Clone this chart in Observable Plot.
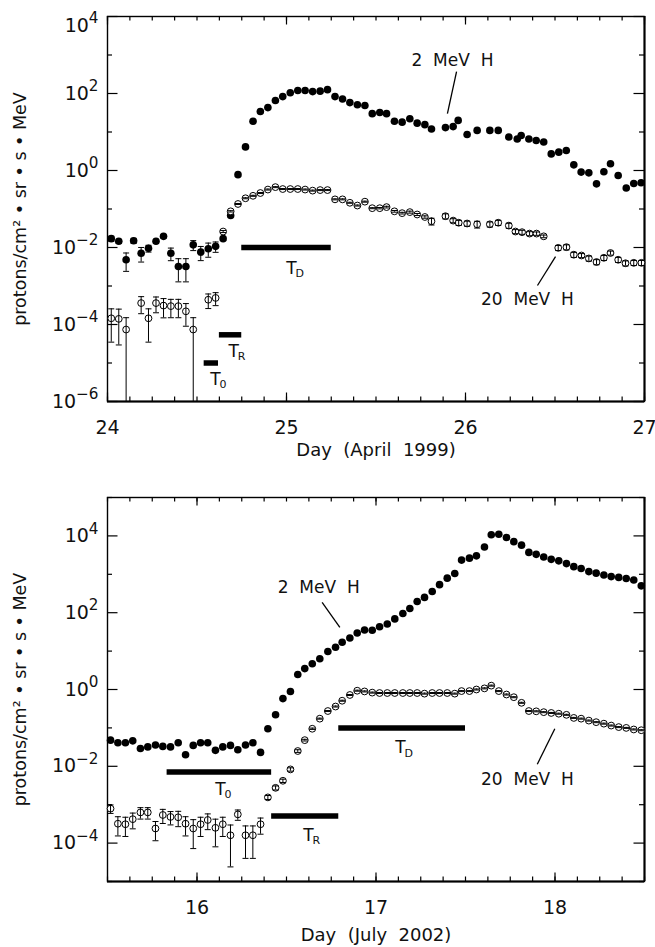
<!DOCTYPE html>
<html><head><meta charset="utf-8">
<script src="https://cdn.jsdelivr.net/npm/d3@7"></script>
<script src="https://cdn.jsdelivr.net/npm/@observablehq/plot@0.6"></script>
<style>
body{margin:0;background:#fff;}
#chart{width:655px;}
#chart svg{display:block;}
</style></head><body><div id="chart"></div>
<script>
// ---------- April 1999 event ----------
const aprDays2 = [24.021,24.063,24.104,24.146,24.188,24.229,24.271,24.313,24.354,24.396,24.438,24.479,24.521,24.563,24.604,24.646,24.688,24.729,24.771,24.813,24.854,24.896,24.938,24.979,25.021,25.063,25.104,25.146,25.188,25.229,25.271,25.313,25.354,25.396,25.438,25.479,25.521,25.559,25.603,25.646,25.689,25.730,25.773,25.810,25.888,25.931,25.959,26.009,26.065,26.136,26.183,26.242,26.289,26.311,26.354,26.395,26.437,26.479,26.521,26.563,26.605,26.646,26.689,26.732,26.773,26.810,26.853,26.898,26.940,26.981];
const aprFlux2 = [1.7e-2,1.45e-2,4.8e-3,1.5e-2,7.1e-3,9.5e-3,1.45e-2,1.95e-2,7.1e-3,3.2e-3,3.2e-3,1.17e-2,7.6e-3,9.3e-3,1.07e-2,1.7e-2,6.8e-2,0.78,4.1,19,34,43,66,83,105,120,120,112,115,126,83,72,58,51,49,30,32,30,19,18,22,17,15.5,12,13,13.8,20,8.6,11,11,11,7.4,6.6,8.1,6.6,6.0,5.5,2.7,3.0,3.3,1.4,0.91,0.87,0.45,0.93,1.5,0.74,0.35,0.46,0.48];
const aprErr2 = [0.15,0.12,0.5,0.15,0.41,0.2,0.12,0.1,0.36,0.6,0.6,0.29,0.4,0.4,0.3,0.1,0,0,0,0,0,0,0,0,0,0,0,0,0,0,0,0,0,0,0,0,0,0,0,0,0,0,0,0,0,0,0,0,0,0,0,0,0,0,0,0,0,0,0,0,0,0,0,0,0,0,0,0,0,0];

const aprDays20 = [24.021,24.063,24.104,24.188,24.229,24.271,24.313,24.354,24.396,24.438,24.479,24.563,24.604,24.646,24.688,24.729,24.771,24.813,24.854,24.896,24.938,24.979,25.021,25.063,25.104,25.146,25.188,25.229,25.271,25.313,25.354,25.396,25.438,25.479,25.521,25.559,25.603,25.646,25.689,25.730,25.773,25.810,25.888,25.931,25.962,26.009,26.065,26.136,26.183,26.242,26.279,26.316,26.358,26.397,26.437,26.518,26.564,26.605,26.648,26.689,26.732,26.773,26.810,26.853,26.894,26.940,26.983];
const aprFlux20 = [1.45e-4,1.4e-4,7.4e-5,3.6e-4,1.45e-4,3.6e-4,3.1e-4,3.0e-4,3.0e-4,2.2e-4,7.4e-5,4.4e-4,4.9e-4,2.6e-2,8.7e-2,0.135,0.19,0.22,0.26,0.32,0.37,0.33,0.33,0.33,0.32,0.30,0.31,0.31,0.178,0.178,0.145,0.123,0.155,0.105,0.105,0.112,0.087,0.078,0.083,0.072,0.062,0.048,0.065,0.050,0.044,0.042,0.040,0.040,0.044,0.037,0.026,0.025,0.023,0.023,0.0195,0.0098,0.0102,0.0065,0.0062,0.0052,0.0042,0.0054,0.0072,0.0048,0.0039,0.0040,0.0040];
const aprErr20 = [0.76,0.79,1.03,0.47,0.76,0.44,0.52,0.5,0.5,0.59,1.03,0.41,0.37,0.06,0.04,0.03,0.03,0.03,0.03,0.03,0.03,0.03,0.03,0.03,0.03,0.03,0.03,0.03,0.03,0.03,0.03,0.03,0.03,0.03,0.04,0.05,0.05,0.05,0.06,0.06,0.07,0.2,0.15,0.12,0.15,0.15,0.2,0.15,0.15,0.15,0.12,0.12,0.12,0.1,0.08,0.15,0.15,0.15,0.12,0.15,0.15,0.15,0.12,0.15,0.15,0.15,0.15];

const aprTicksMajor = [24, 25, 26, 27];
const aprNotes = [
  {text: "2\u00a0\u00a0MeV\u00a0\u00a0H", day: 25.927, flux: 720},
  {text: "20\u00a0\u00a0MeV\u00a0\u00a0H", day: 26.346, flux: 4.47e-4}
];
const aprLeaders = [
  {day1: 25.950, flux1: 372, day2: 25.899, flux2: 30.2},
  {day1: 26.503, flux1: 5.8e-3, day2: 26.402, flux2: 1.03e-3}
];
const aprPhases = [
  {sub: "D", start: 24.75, end: 25.25, flux: 1e-2, labelDay: 25.028, labelFlux: 2.9e-3},
  {sub: "R", start: 24.625, end: 24.75, flux: 5.4e-5, labelDay: 24.705, labelFlux: 2.0e-5},
  {sub: "0", start: 24.54, end: 24.62, flux: 1e-5, labelDay: 24.603, labelFlux: 3.7e-6}
];

// ---------- July 2002 event ----------
const julDays = [15.517,15.558,15.600,15.641,15.684,15.725,15.768,15.809,15.852,15.895,15.936,15.979,16.020,16.060,16.103,16.144,16.187,16.228,16.271,16.312,16.355,16.396,16.439,16.480,16.522,16.563,16.602,16.644,16.686,16.731,16.774,16.811,16.854,16.895,16.936,16.979,17.020,17.063,17.105,17.150,17.189,17.230,17.271,17.314,17.355,17.398,17.440,17.478,17.522,17.561,17.606,17.644,17.686,17.729,17.770,17.813,17.854,17.895,17.937,17.979,18.021,18.064,18.105,18.146,18.189,18.230,18.273,18.314,18.356,18.398,18.440,18.482];
const julFlux2 = [0.048,0.041,0.041,0.046,0.029,0.032,0.036,0.033,0.032,0.041,0.020,0.035,0.041,0.041,0.026,0.032,0.035,0.027,0.036,0.041,0.023,0.095,0.22,0.58,0.89,2.45,3.5,4.7,6.3,9.8,12.6,17,22,29.5,35.5,35,43,51,69,95,129,195,250,355,537,794,1050,2340,2630,3020,5130,10700,11000,9120,7080,5750,3720,3310,2820,2450,2240,1900,1580,1410,1175,1070,955,870,830,776,708,500];
const julFlux20 = [7.9e-4,3.2e-4,3.1e-4,4.2e-4,6.3e-4,6.3e-4,2.4e-4,5.4e-4,4.8e-4,4.7e-4,3.2e-4,2.4e-4,3.1e-4,4.0e-4,2.5e-4,3.1e-4,1.6e-4,5.6e-4,1.6e-4,1.6e-4,3.1e-4,1.55e-3,2.75e-3,4.2e-3,8.3e-3,0.025,0.048,0.095,0.174,0.275,0.36,0.51,0.72,0.93,0.89,0.83,0.81,0.81,0.81,0.81,0.81,0.81,0.78,0.81,0.81,0.81,0.78,0.91,0.91,1.0,1.07,1.26,0.91,0.74,0.63,0.45,0.275,0.27,0.257,0.245,0.234,0.219,0.182,0.174,0.155,0.141,0.129,0.115,0.105,0.100,0.091,0.087];
const julErr20 = [0.25,0.52,0.52,0.44,0.33,0.33,0.52,0.4,0.38,0.43,0.52,0.7,0.52,0.44,0.68,0.52,0.85,0.3,0.75,0.75,0.45,0.12,0.12,0.1,0.1,0.08,0.05,0.04,0.03,0.03,0.03,0.03,0.03,0.03,0.03,0.03,0.03,0.03,0.03,0.03,0.03,0.03,0.03,0.03,0.03,0.03,0.03,0.03,0.03,0.03,0.03,0.03,0.03,0.03,0.03,0.03,0.03,0.03,0.03,0.03,0.03,0.03,0.03,0.03,0.03,0.03,0.03,0.03,0.03,0.03,0.03,0.03];

const julTicksMajor = [16, 17, 18];
const julNotes = [
  {text: "2\u00a0\u00a0MeV\u00a0\u00a0H", day: 16.680, flux: 446},
  {text: "20\u00a0\u00a0MeV\u00a0\u00a0H", day: 17.846, flux: 4.6e-3}
];
const julLeaders = [
  {day1: 16.699, flux1: 185, day2: 16.798, flux2: 41.5},
  {day1: 17.999, flux1: 0.0953, day2: 17.901, flux2: 0.0113}
];
const julPhases = [
  {sub: "0", start: 15.833, end: 16.417, flux: 7.1e-3, labelDay: 16.131, labelFlux: 2.5e-3},
  {sub: "R", start: 16.417, end: 16.792, flux: 5.1e-4, labelDay: 16.623, labelFlux: 1.6e-4},
  {sub: "D", start: 16.792, end: 17.5, flux: 0.1, labelDay: 17.137, labelFlux: 0.030}
];

const yLabel = "protons/cm\u00b2 \u2022 sr \u2022 s \u2022 MeV";
const FONT = "'DejaVu Sans', 'Liberation Sans', sans-serif";

const capSymbol = {draw(ctx, size) { const w = Math.sqrt(size / Math.PI); ctx.moveTo(-w, 0); ctx.lineTo(w, 0); }};

function rows(days, flux, err, ymin) {
  return days.map((d, i) => {
    const e = err ? err[i] : 0;
    const lo = flux[i] * (1 - e);
    return {day: d, flux: flux[i], err: e, lo: lo > ymin ? lo : ymin, loCap: lo > ymin, hi: flux[i] * (1 + e)};
  });
}

function panel(o) {
  const innerH = o.height - o.marginTop - o.marginBottom;
  const yMin = o.yDomain[0];
  const d2 = rows(o.days2, o.flux2, o.err2, yMin);
  const d20 = rows(o.days20, o.flux20, o.err20, yMin);
  const e2 = d2.filter(d => d.err > 0), e20 = d20.filter(d => d.err > 0);
  const minor = d3.range(o.xDomain[0], o.xDomain[1] + 1e-9, 0.125);
  const decades = d3.range(Math.log10(o.yDomain[0]), Math.log10(o.yDomain[1]) + 0.5, 1).map(k => Math.pow(10, k));
  const yMajor = decades.filter(v => Math.round(Math.log10(v)) % 2 === 0);
  const yMinor = decades.filter(v => Math.round(Math.log10(v)) % 2 !== 0);
  const svg = Plot.plot({
    width: 655, height: o.height,
    marginLeft: 107, marginRight: 11, marginTop: o.marginTop, marginBottom: o.marginBottom,
    x: {domain: o.xDomain, label: null},
    y: {type: "log", domain: o.yDomain, label: null},
    style: {fontFamily: FONT, fontSize: "18px", color: "#111", background: "#fff", overflow: "visible"},
    marks: [
      // tick marks (inward)
      Plot.tickX(minor, {x: d => d, insetTop: innerH - 4.5, stroke: "#000", strokeWidth: 1.2}),
      Plot.tickX(minor, {x: d => d, insetBottom: innerH - 4.5, stroke: "#000", strokeWidth: 1.2}),
      Plot.tickX(o.xMajor, {x: d => d, insetTop: innerH - 8.5, stroke: "#000", strokeWidth: 1.2}),
      Plot.tickX(o.xMajor, {x: d => d, insetBottom: innerH - 8.5, stroke: "#000", strokeWidth: 1.2}),
      Plot.tickY(yMajor, {y: d => d, insetRight: 537 - 10.5, stroke: "#000", strokeWidth: 1.2}),
      Plot.tickY(yMajor, {y: d => d, insetLeft: 537 - 10.5, stroke: "#000", strokeWidth: 1.2}),
      Plot.tickY(yMinor, {y: d => d, insetRight: 537 - 5, stroke: "#000", strokeWidth: 1.2}),
      Plot.tickY(yMinor, {y: d => d, insetLeft: 537 - 5, stroke: "#000", strokeWidth: 1.2}),
      Plot.frame({stroke: "#000", strokeWidth: 1.4}),
      Plot.ruleY([o.yDomain[0]], {stroke: "#000", strokeWidth: 2.2}),
      Plot.ruleX([o.xDomain[1]], {stroke: "#000", strokeWidth: 2}),
      // tick labels
      Plot.axisX(o.xMajor, {anchor: "bottom", tickSize: 0, tickPadding: 19, label: null, fontSize: 19, tickFormat: d => String(d)}),
      Plot.axisY(yMajor, {anchor: "left", tickSize: 0, tickPadding: 9, label: null, fontSize: 19, tickFormat: d => "10^" + Math.round(Math.log10(d))}),
      // axis titles
      Plot.text([o.xLabel], {frameAnchor: "bottom", dy: o.xLabelDy, text: d => d, lineAnchor: "middle", fontSize: 18}),
      Plot.text([yLabel], {frameAnchor: "left", dx: -87, rotate: -90, text: d => d, textAnchor: "middle", lineAnchor: "middle", fontSize: 17.5}),
      // phase bars
      Plot.ruleY(o.phases, {y: "flux", x1: "start", x2: "end", stroke: "#000", strokeWidth: 5.5}),
      Plot.text(o.phases, {x: "labelDay", y: "labelFlux", text: () => "T", fontSize: 17, lineAnchor: "middle"}),
      Plot.text(o.phases, {x: "labelDay", y: "labelFlux", text: "sub", fontSize: 11, textAnchor: "start", dx: 4, dy: 5, lineAnchor: "middle"}),
      // annotations
      Plot.text(o.notes, {x: "day", y: "flux", text: "text", fontSize: 17, lineAnchor: "middle"}),
      Plot.link(o.leaders, {x1: "day1", y1: "flux1", x2: "day2", y2: "flux2", stroke: "#000", strokeWidth: 1.3}),
      // 2 MeV (filled)
      Plot.ruleX(e2, {x: "day", y1: "lo", y2: "hi", stroke: "#000", strokeWidth: 1}),
      Plot.dot(e2, {x: "day", y: "hi", symbol: capSymbol, r: 3, stroke: "#000", strokeWidth: 1}),
      Plot.dot(e2.filter(d => d.loCap), {x: "day", y: "lo", symbol: capSymbol, r: 3, stroke: "#000", strokeWidth: 1}),
      Plot.dot(d2, {x: "day", y: "flux", r: 3.8, fill: "#000", stroke: "none"}),
      // 20 MeV (open)
      Plot.dot(d20, {x: "day", y: "flux", r: 3.4, fill: "#fff", stroke: "#000", strokeWidth: 1}),
      Plot.ruleX(e20, {x: "day", y1: "lo", y2: "hi", stroke: "#000", strokeWidth: 1}),
      Plot.dot(e20, {x: "day", y: "hi", symbol: capSymbol, r: 3, stroke: "#000", strokeWidth: 1}),
      Plot.dot(e20.filter(d => d.loCap), {x: "day", y: "lo", symbol: capSymbol, r: 3, stroke: "#000", strokeWidth: 1})
    ]
  });
  // exponent formatting of the y tick labels
  d3.select(svg).selectAll('g[aria-label="y-axis tick label"] text').each(function () {
    const m = this.textContent.match(/^10\^(.+)$/);
    if (!m) return;
    const t = d3.select(this);
    t.text(null);
    t.append("tspan").text("10");
    t.append("tspan").attr("dy", "-0.55em").attr("font-size", "0.8em").text(m[1].replace("-", "\u2212"));
    if (o.shiftTop && m[1] === String(Math.round(Math.log10(o.yDomain[1])))) {
      t.attr("transform", (t.attr("transform") || "") + " translate(0,9)");
    }
  });
  return svg;
}

const chart = document.getElementById("chart");
chart.appendChild(panel({
  height: 470, marginTop: 16, marginBottom: 69,
  xDomain: [24, 27], yDomain: [1e-6, 1e4], xMajor: aprTicksMajor,
  days2: aprDays2, flux2: aprFlux2, err2: aprErr2,
  days20: aprDays20, flux20: aprFlux20, err20: aprErr20,
  notes: aprNotes, leaders: aprLeaders, phases: aprPhases,
  xLabel: "Day\u00a0\u00a0(April\u00a0\u00a01999)", xLabelDy: 49, shiftTop: true
}));
chart.appendChild(panel({
  height: 477, marginTop: 27, marginBottom: 66,
  xDomain: [15.5, 18.5], yDomain: [1e-5, 1e5], xMajor: julTicksMajor,
  days2: julDays, flux2: julFlux2, err2: null,
  days20: julDays, flux20: julFlux20, err20: julErr20,
  notes: julNotes, leaders: julLeaders, phases: julPhases,
  xLabel: "Day\u00a0\u00a0(July\u00a0\u00a02002)", xLabelDy: 54, shiftTop: false
}));
</script>
</body></html>
